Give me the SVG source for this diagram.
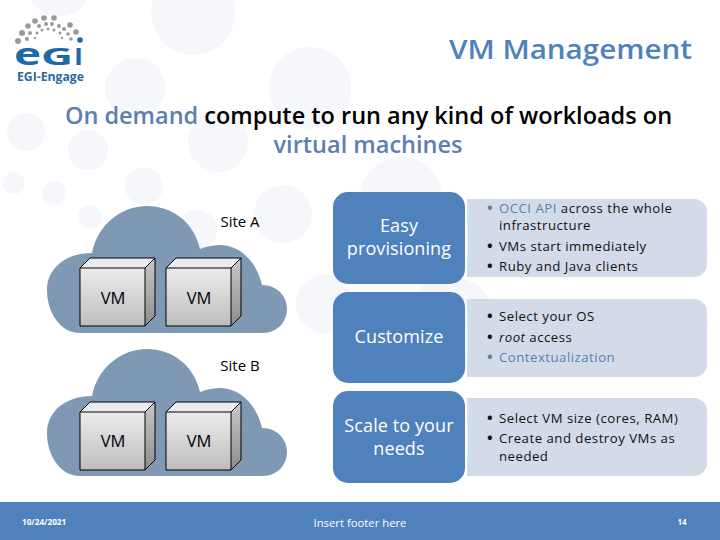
<svg xmlns="http://www.w3.org/2000/svg" width="720" height="540" viewBox="0 0 720 540">
<defs>
<linearGradient id="front" x1="0" y1="0" x2="0" y2="1"><stop offset="0" stop-color="#ececec"/><stop offset="1" stop-color="#bdbdbd"/></linearGradient>
<linearGradient id="side" x1="0" y1="0" x2="0" y2="1"><stop offset="0" stop-color="#c8c8c8"/><stop offset="1" stop-color="#8e8e8e"/></linearGradient>
<path id="cloud" d="M80 333C60 333 47 312 47 290C47 268 66 253 92 253C97 226 120 206 147 206C172 206 194 222 200 249C208 246 214 245 220 245C240 245 257 262 262 285C277 285 287 296 287 309C287 322 277 333 263 333Z" fill="#7f99b4"/>
<g id="vm"><path d="M0 0H65V58H0Z" fill="url(#front)"/><path d="M0 0L10 -10H75L65 0Z" fill="#ececec"/><path d="M65 0L75 -10V48L65 58Z" fill="url(#side)"/><path d="M0 0H65V58H0ZM0 0L10 -10H75L65 0M65 0L75 -10V48L65 58" fill="none" stroke="#000" stroke-width="1"/></g>
<path id="panel" d="M467 0H694A13 13 0 0 1 707 13V65A13 13 0 0 1 694 78H467Q468 39 467 0Z" fill="#d3dbe8"/>
</defs>
<style>
text{font-family:"Open Sans","DejaVu Sans",sans-serif}
.b{fill:#4f81bd}.bg{fill:#f5f7fa}
.h{font-size:18px;fill:#fff;text-anchor:middle;letter-spacing:.1px}
.s{font-size:15px;fill:#000;text-anchor:middle}
.v{font-size:16.5px;fill:#000;text-anchor:middle}
.t{font-size:13.2px;fill:#111;letter-spacing:.5px;font-weight:500}
.u{font-size:15px;font-weight:700}
.a{fill:#5a7fb0}
.dot{fill:#9a9a9a}
.lg{font-weight:700;fill:#1f6aa5}
</style>
<rect width="720" height="540" fill="#fff"/>
<g id="background" class="bg">
<circle cx="59" cy="-18" r="34"/><circle cx="193" cy="13" r="42"/><circle cx="135" cy="88" r="30"/><circle cx="26" cy="132" r="19"/><circle cx="88" cy="150" r="20"/><circle cx="218" cy="142" r="30"/><circle cx="310" cy="88" r="41"/><circle cx="144" cy="186" r="19"/><circle cx="14" cy="183" r="11"/><circle cx="54" cy="193" r="12"/><circle cx="90" cy="217" r="12"/><circle cx="283" cy="214" r="29"/><circle cx="197" cy="230" r="20"/><circle cx="401" cy="198" r="41"/><circle cx="325" cy="304" r="29"/><circle cx="450" cy="325" r="48"/>
</g>
<g id="logo">
<g class="dot"><circle cx="18" cy="41" r="3"/><circle cx="22" cy="33" r="3"/><circle cx="28" cy="26" r="2.8"/><circle cx="35" cy="21" r="2.8"/><circle cx="44" cy="18" r="2.8"/><circle cx="54" cy="18" r="2.8"/><circle cx="70" cy="25" r="2.8"/><circle cx="76" cy="32" r="2.8"/><circle cx="27" cy="39" r="2"/><circle cx="30" cy="33" r="2"/><circle cx="39" cy="26" r="2"/><circle cx="46" cy="24" r="2"/><circle cx="52" cy="24" r="2"/><circle cx="59" cy="26" r="2"/><circle cx="64" cy="29" r="2"/><circle cx="68" cy="34" r="1.8"/><circle cx="71" cy="39" r="1.8"/><circle cx="37" cy="33" r="1.5"/><circle cx="42" cy="30" r="1.5"/><circle cx="48" cy="29" r="1.5"/><circle cx="54" cy="30" r="1.5"/><circle cx="60" cy="33" r="1.5"/><circle cx="35" cy="38" r="1.2"/><circle cx="62" cy="38" r="1.2"/></g>
<circle cx="80" cy="40" r="2.8" fill="#1f6aa5"/>
<text class="lg" x="14" y="65" font-size="31" textLength="27" lengthAdjust="spacingAndGlyphs">e</text>
<text class="lg" x="41" y="65" font-size="24" textLength="32" lengthAdjust="spacingAndGlyphs">G</text>
<text class="lg" x="74" y="65" font-size="24" textLength="9" lengthAdjust="spacingAndGlyphs">I</text>
<text x="17" y="81" font-size="12" font-weight="700" fill="#2b6a9c" textLength="67" lengthAdjust="spacingAndGlyphs">EGI-Engage</text>
</g>
<text id="title" x="692" y="59" font-size="27" font-weight="600" fill="#4f81bd" text-anchor="end" textLength="243" lengthAdjust="spacingAndGlyphs">VM Management</text>
<g id="subtitle" font-size="23.5" font-weight="600" text-anchor="middle">
<text x="368.5" y="124"><tspan class="a">On demand</tspan> compute to run any kind of workloads on</text>
<text x="368" y="153" class="a">virtual machines</text>
</g>
<g id="site-a"><use href="#cloud"/><text class="s" x="240" y="227">Site A</text></g>
<g id="vm-a1"><use href="#vm" x="80" y="268"/><text class="v" x="113" y="304">VM</text></g>
<g id="vm-a2"><use href="#vm" x="166" y="268"/><text class="v" x="199" y="304">VM</text></g>
<g id="site-b"><use href="#cloud" y="143"/><text class="s" x="240" y="371">Site B</text></g>
<g id="vm-b1"><use href="#vm" x="80" y="412"/><text class="v" x="113" y="447">VM</text></g>
<g id="vm-b2"><use href="#vm" x="166" y="412"/><text class="v" x="199" y="447">VM</text></g>
<g id="row-1">
<use href="#panel" y="199"/>
<rect class="b" x="333" y="192" width="132" height="92" rx="15"/>
<text class="h" x="399" y="232">Easy</text><text class="h" x="399" y="255">provisioning</text>
<text class="t" x="487" y="213"><tspan class="u" fill="#5a7fb0">•</tspan><tspan x="499" fill="#5a7fb0">OCCI API</tspan> across the whole</text>
<text class="t" x="499" y="230">infrastructure</text>
<text class="t" x="487" y="251"><tspan class="u">•</tspan><tspan x="499">VMs start immediately</tspan></text>
<text class="t" x="487" y="271"><tspan class="u">•</tspan><tspan x="499">Ruby and Java clients</tspan></text>
</g>
<g id="row-2">
<use href="#panel" y="299"/>
<rect class="b" x="333" y="292" width="132" height="91" rx="15"/>
<text class="h" x="399" y="343">Customize</text>
<text class="t" x="487" y="321"><tspan class="u">•</tspan><tspan x="499">Select your OS</tspan></text>
<text class="t" x="487" y="342"><tspan class="u">•</tspan><tspan x="499" font-style="italic">root</tspan> access</text>
<text class="t" x="487" y="362" style="fill:#5a7fb0"><tspan class="u">•</tspan><tspan x="499">Contextualization</tspan></text>
</g>
<g id="row-3">
<use href="#panel" y="398"/>
<rect class="b" x="333" y="391" width="132" height="92" rx="15"/>
<text class="h" x="399" y="432">Scale to your</text><text class="h" x="399" y="455">needs</text>
<text class="t" x="487" y="423"><tspan class="u">•</tspan><tspan x="499">Select VM size (cores, RAM)</tspan></text>
<text class="t" x="487" y="443"><tspan class="u">•</tspan><tspan x="499">Create and destroy VMs as</tspan></text>
<text class="t" x="499" y="461">needed</text>
</g>
<g id="footer">
<rect class="b" y="502" width="720" height="38"/>
<text x="22" y="525" font-size="8.2" font-weight="700" fill="#fff">10/24/2021</text>
<text x="360" y="527" font-size="11.3" fill="#fff" text-anchor="middle">Insert footer here</text>
<text x="682" y="525" font-size="8" font-weight="700" fill="#fff" text-anchor="middle">14</text>
</g>
</svg>
